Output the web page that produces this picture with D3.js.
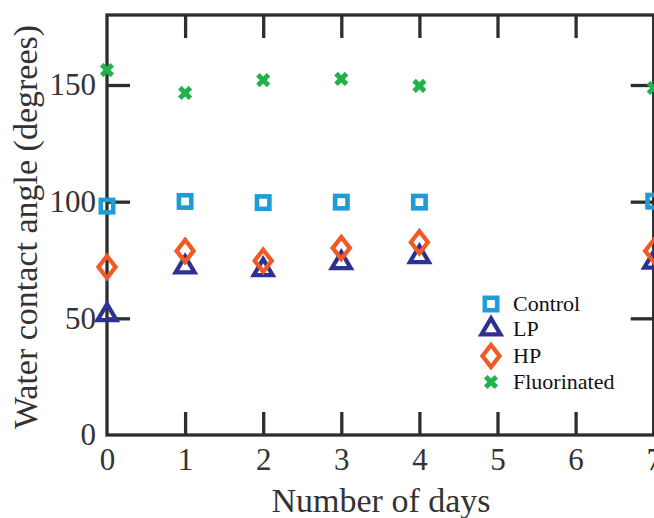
<!DOCTYPE html>
<html>
<head>
<meta charset="utf-8">
<script src="https://cdn.jsdelivr.net/npm/d3@7"></script>
<style>
  body { margin: 0; background: #fff; }
  svg { display: block; }
</style>
</head>
<body>
<div id="chart"></div>
<script>
var days        = [0, 1, 2, 3, 4, 7];
var xTicks      = [0, 1, 2, 3, 4, 5, 6, 7];
var yTicks      = [0, 50, 100, 150];
var controlVals = [98.1, 100.1, 99.6, 99.8, 99.8, 100.2];
var lpVals      = [51.5, 72.0, 70.8, 73.8, 76.4, 74.0];
var hpVals      = [72.0, 78.9, 74.7, 80.1, 82.6, 78.9];
var fluorVals   = [156.4, 146.6, 152.1, 152.6, 149.6, 148.7];
var seriesNames = ["Control", "LP", "HP", "Fluorinated"];

var width  = 654,
    height = 518;
var margin = {left: 107, top: 15, right: 0, bottom: 83};

var svg = d3.select("#chart")
    .append("svg")
    .attr("width", width)
    .attr("height", height);

//scales
var x = d3.scaleLinear().domain([0, 7]).range([margin.left, 653.7]);
var y = d3.scaleLinear().domain([0, 180]).range([height - margin.bottom, margin.top]);

var axisColor = "#2b2e31";
var font = "'Liberation Serif', 'Times New Roman', serif";

//frame
svg.append("rect")
    .attr("x", x(0))
    .attr("y", y(180))
    .attr("width", x(7) - x(0))
    .attr("height", y(0) - y(180))
    .attr("fill", "none")
    .attr("stroke", axisColor)
    .attr("stroke-width", 3.3);

//axes with inward ticks
var tickLen = 23;
var bottomAxis = d3.axisBottom(x).tickValues(xTicks).tickSizeInner(-tickLen).tickSizeOuter(0)
                   .tickPadding(13).tickFormat(d3.format("d"));
var topAxis    = d3.axisTop(x).tickValues(xTicks).tickSizeInner(-tickLen).tickSizeOuter(0).tickFormat("");
var leftAxis   = d3.axisLeft(y).tickValues(yTicks).tickSizeInner(-tickLen).tickSizeOuter(0)
                   .tickPadding(11).tickFormat(d3.format("d"));
var rightAxis  = d3.axisRight(y).tickValues(yTicks).tickSizeInner(-tickLen).tickSizeOuter(0).tickFormat("");

function styleAxis(g) {
    g.select(".domain").remove();
    g.selectAll("line").attr("stroke", axisColor).attr("stroke-width", 3.3);
    g.selectAll("text")
        .attr("fill", "#333")
        .attr("font-family", font)
        .attr("font-size", 31);
}

svg.append("g").attr("transform", "translate(0," + y(0) + ")").call(bottomAxis).call(styleAxis);
svg.append("g").attr("transform", "translate(0," + y(180) + ")").call(topAxis).call(styleAxis);
svg.append("g").attr("transform", "translate(" + x(0) + ",0)").call(leftAxis).call(styleAxis);
svg.append("g").attr("transform", "translate(" + x(7) + ",0)").call(rightAxis).call(styleAxis);

//hide the tick marks on the frame corners
svg.selectAll(".tick").filter(function(d) { return d === 0 || d === 7; }).select("line").remove();

//axis titles
svg.append("text")
    .attr("x", 381)
    .attr("y", 512)
    .attr("text-anchor", "middle")
    .attr("font-family", font)
    .attr("font-size", 34)
    .attr("fill", "#333")
    .text("Number of days");

svg.append("text")
    .attr("transform", "translate(37," + 227 + ") rotate(-90)")
    .attr("text-anchor", "middle")
    .attr("font-family", font)
    .attr("font-size", 34)
    .attr("fill", "#333")
    .text("Water contact angle (degrees)");

//marker drawing
var colors = {
    "Control": "#1f9bd7",
    "LP": "#2e3192",
    "HP": "#f15a24",
    "Fluorinated": "#22b14c"
};

function drawMarker(g, name, cx, cy) {
    var c = colors[name];
    if (name === "Control") {
        g.append("rect")
            .attr("x", cx - 6.2).attr("y", cy - 6.2)
            .attr("width", 12.4).attr("height", 12.4)
            .attr("fill", "none").attr("stroke", c).attr("stroke-width", 4.6);
    } else if (name === "LP") {
        var h = 16, w = 19;
        g.append("path")
            .attr("d", "M" + cx + "," + (cy - h * 2 / 3) +
                       "L" + (cx + w / 2) + "," + (cy + h / 3) +
                       "L" + (cx - w / 2) + "," + (cy + h / 3) + "Z")
            .attr("fill", "none").attr("stroke", c).attr("stroke-width", 4.2);
    } else if (name === "HP") {
        var dy = 11, dx = 8.5;
        g.append("path")
            .attr("d", "M" + cx + "," + (cy - dy) + "L" + (cx + dx) + "," + cy +
                       "L" + cx + "," + (cy + dy) + "L" + (cx - dx) + "," + cy + "Z")
            .attr("fill", "none").attr("stroke", c).attr("stroke-width", 4.3);
    } else {
        var r = 5.3;
        g.append("path")
            .attr("d", "M" + (cx - r) + "," + (cy - r) + "L" + (cx + r) + "," + (cy + r) +
                       "M" + (cx + r) + "," + (cy - r) + "L" + (cx - r) + "," + (cy + r))
            .attr("stroke", c).attr("stroke-width", 5);
    }
}

var seriesVals = [controlVals, lpVals, hpVals, fluorVals];
var marks = svg.append("g");
//draw LP first so the HP diamonds sit on top, as in the reference
[1, 0, 2, 3].forEach(function(k) {
    seriesVals[k].forEach(function(v, i) {
        drawMarker(marks, seriesNames[k], x(days[i]), y(v));
    });
});

//legend
var legendY = [304, 329, 356, 382];
var legend = svg.append("g").attr("transform", "translate(491,0)");
seriesNames.forEach(function(name, i) {
    var row = legend.append("g").attr("transform", "translate(0," + legendY[i] + ")");
    drawMarker(row, name, 0, 0);
    row.append("text")
        .attr("x", 22)
        .attr("y", 7)
        .attr("font-family", font)
        .attr("font-size", 22)
        .attr("fill", "#111")
        .text(name);
});
</script>
</body>
</html>
